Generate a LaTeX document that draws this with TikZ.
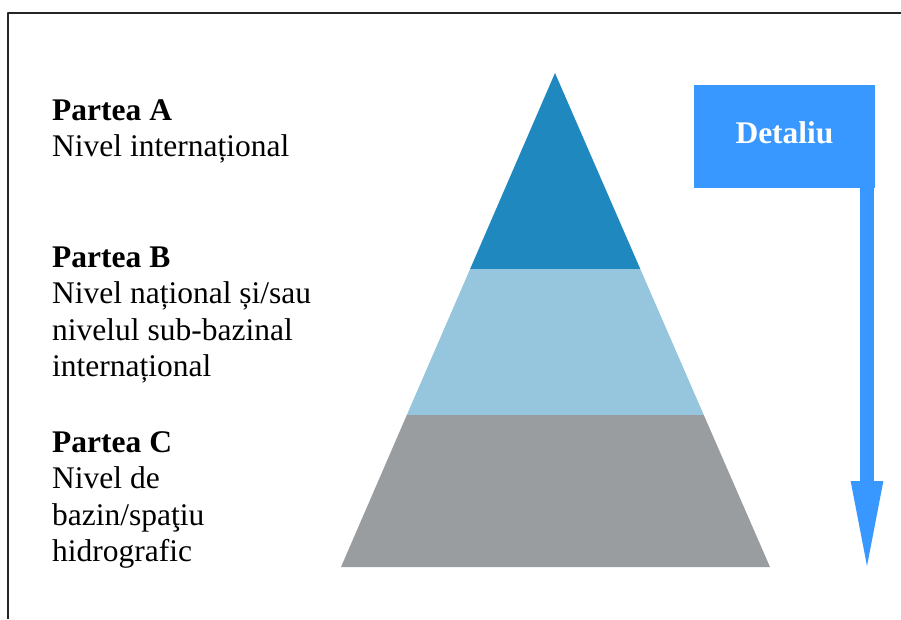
\documentclass[tikz,border=0pt]{standalone}
\usepackage{fontspec}
\setmainfont{Liberation Serif}
\usetikzlibrary{arrows.meta}
\definecolor{topblue}{HTML}{1F88BF}
\definecolor{midblue}{HTML}{95C6DE}
\definecolor{basegray}{HTML}{9A9DA0}
\definecolor{arrowblue}{HTML}{3898FF}
\begin{document}
\begin{tikzpicture}[x=1pt,y=-1pt,line join=round,font=\fontsize{31.5}{36.5}\selectfont,
	txt/.style={anchor=base west,align=left,inner sep=0pt}]
	\useasboundingbox (0,0) rectangle (901,619);
	\draw[line width=1.5pt,black!85] (8,619) |- (901,13);
	\fill[topblue] (555,73)--(640.3,269)--(470.1,269)--cycle;
	\fill[midblue] (470.1,269)--(640.3,269)--(703.8,415)--(406.8,415)--cycle;
	\fill[basegray] (406.8,415)--(703.8,415)--(770,567)--(341,567)--cycle;
	% base = baseline of the last line
	\node[txt] (partA) at (52,156.5) {\textbf{Partea A}\\Nivel internațional};
	\node[txt] (partB) at (52,376.5) {\textbf{Partea B}\\Nivel național și/sau\\nivelul sub-bazinal\\internațional};
	\node[txt] (partC) at (52,561.5) {\textbf{Partea C}\\Nivel de\\bazin/spaţiu\\hidrografic};
	\node[fill=arrowblue,text=white,font=\fontsize{31.5}{36.5}\selectfont\bfseries,minimum width=181pt,minimum height=103pt,text height=22pt,text depth=8pt,inner sep=0pt] (detail) at (784.5,136.5) {Detaliu};
	\coordinate (tip) at (867,578);
	\draw[arrowblue,line width=14pt,-{Triangle[length=97pt,width=28pt]}] (detail.south -| tip) -- (tip);
\end{tikzpicture}
\end{document}
